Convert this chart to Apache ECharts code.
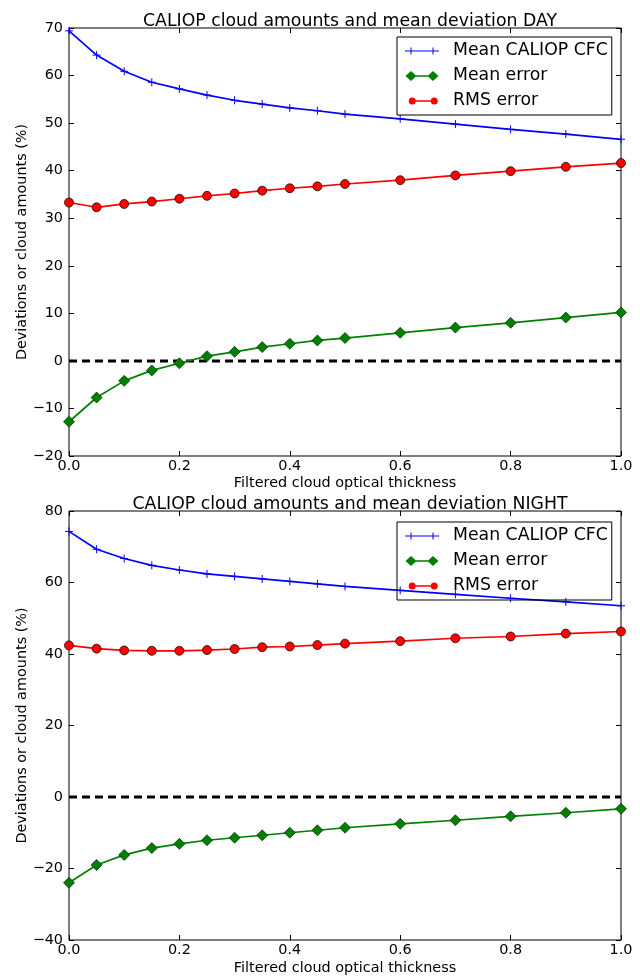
<!DOCTYPE html>
<html>
<head>
<meta charset="utf-8">
<script src="https://cdn.jsdelivr.net/npm/echarts@6/dist/echarts.min.js"></script>
<style>
  html, body { margin: 0; padding: 0; background: #fff; }
  #chart { width: 640px; height: 977px; }
</style>
</head>
<body>
<div id="chart"></div>
<script>
// filtered cloud optical thickness
const thickness = [0, 0.05, 0.1, 0.15, 0.2, 0.25, 0.3, 0.35, 0.4, 0.45, 0.5, 0.6, 0.7, 0.8, 0.9, 1.0];

const dayCfc = [69.4, 64.3, 60.9, 58.6, 57.2, 55.9, 54.8, 54.0, 53.2, 52.6, 51.9, 50.9, 49.8, 48.7, 47.7, 46.6];
const dayMeanErr = [-12.8, -7.7, -4.2, -2.0, -0.5, 1.0, 1.9, 2.9, 3.6, 4.3, 4.8, 5.9, 7.0, 8.0, 9.1, 10.2];
const dayRms = [33.3, 32.3, 33.0, 33.5, 34.1, 34.7, 35.2, 35.8, 36.3, 36.7, 37.2, 38.0, 39.0, 39.9, 40.8, 41.6];

const nightCfc = [74.3, 69.3, 66.7, 64.8, 63.5, 62.4, 61.7, 61.0, 60.3, 59.6, 58.9, 57.8, 56.7, 55.6, 54.6, 53.5];
const nightMeanErr = [-24.0, -19.0, -16.2, -14.3, -13.1, -12.1, -11.4, -10.7, -10.0, -9.3, -8.6, -7.5, -6.5, -5.4, -4.4, -3.3];
const nightRms = [42.4, 41.5, 41.0, 40.9, 40.9, 41.1, 41.4, 41.9, 42.1, 42.5, 42.9, 43.6, 44.4, 44.9, 45.7, 46.3];

const xRange = [0, 1, 0.2];
const dayYRange = [-20, 70, 10];
const nightYRange = [-40, 80, 20];

const titles = ['CALIOP cloud amounts and mean deviation DAY', 'CALIOP cloud amounts and mean deviation NIGHT'];
const seriesNames = ['Mean CALIOP CFC', 'Mean error', 'RMS error'];
const xName = 'Filtered cloud optical thickness';
const yName = 'Deviations or cloud amounts (%)';

const FONT = 'DejaVu Sans';
const pairs = ys => thickness.map((x, i) => [x, ys[i]]);
const minus = v => (v < 0 ? '\u2212' + Math.abs(v) : String(v));

const chart = echarts.init(document.getElementById('chart'), null, { renderer: 'canvas' });

const grids = [
  { left: 69, top: 28, width: 552, height: 428 },
  { left: 69, top: 511, width: 552, height: 429 }
];

const tick = { inside: true, length: 5, lineStyle: { color: '#000', width: 1 } };

function xAxes(gi, gap) {
  const base = {
    gridIndex: gi, type: 'value', min: xRange[0], max: xRange[1], interval: xRange[2],
    axisLine: { show: false, onZero: false },
    axisTick: tick,
    splitLine: { show: false }
  };
  return [
    Object.assign({}, base, {
      position: 'bottom',
      axisLabel: { formatter: v => v.toFixed(1), color: '#000', fontSize: 14.4, fontFamily: FONT, margin: 3 },
      name: xName, nameLocation: 'middle', nameGap: gap, nameMoveOverlap: false,
      nameTextStyle: { color: '#000', fontSize: 14.4, fontFamily: FONT }
    }),
    Object.assign({}, base, { position: 'top', axisLabel: { show: false } })
  ];
}

function yAxes(gi, range) {
  const base = {
    gridIndex: gi, type: 'value', min: range[0], max: range[1], interval: range[2],
    axisLine: { show: false, onZero: false },
    axisTick: tick,
    splitLine: { show: false }
  };
  return [
    Object.assign({}, base, {
      position: 'left',
      axisLabel: { formatter: minus, color: '#000', fontSize: 14.4, fontFamily: FONT, margin: 6 },
      name: yName, nameLocation: 'middle', nameGap: 40, nameRotate: 90, nameMoveOverlap: false,
      nameTextStyle: { color: '#000', fontSize: 14.4, fontFamily: FONT }
    }),
    Object.assign({}, base, { position: 'right', axisLabel: { show: false } })
  ];
}

function plotSeries(gi, cfc, meanErr, rms) {
  const ax = { xAxisIndex: gi * 2, yAxisIndex: gi * 2 };
  return [
    Object.assign({
      type: 'line', name: 'zero', data: [[xRange[0], 0], [xRange[1], 0]],
      symbol: 'none', silent: true, z: 1,
      lineStyle: { color: '#000', width: 3, type: [8, 5] }
    }, ax),
    Object.assign({
      type: 'line', name: seriesNames[0], data: pairs(cfc), z: 3,
      symbol: 'path://M0,4L8,4M4,0L4,8', symbolSize: 8,
      itemStyle: { color: '#0000ff', borderColor: '#0000ff', borderWidth: 1 },
      lineStyle: { color: '#0000ff', width: 1.7 }
    }, ax),
    Object.assign({
      type: 'line', name: seriesNames[1], data: pairs(meanErr), z: 3,
      symbol: 'diamond', symbolSize: 11,
      itemStyle: { color: '#008000', borderColor: '#002800', borderWidth: 0.7 },
      lineStyle: { color: '#008000', width: 1.7 }
    }, ax),
    Object.assign({
      type: 'line', name: seriesNames[2], data: pairs(rms), z: 3,
      symbol: 'circle', symbolSize: 9,
      itemStyle: { color: '#ff0000', borderColor: '#000', borderWidth: 0.7 },
      lineStyle: { color: '#ff0000', width: 1.7 }
    }, ax)
  ];
}

// legend icons: line with a marker at each end
const icons = [
  'path://M0,4.6H34V5.4H0Z M5.5,1.5H6.5V8.5H5.5Z M27.5,1.5H28.5V8.5H27.5Z M0,0H0.01V10H0Z',
  'path://M6,0L11.5,5L6,10L0.5,5Z M28,0L33.5,5L28,10L22.5,5Z M6,4.3H28V5.7H6Z',
  'path://M2.5,5A3.5,3.5 0 1,1 9.5,5A3.5,3.5 0 1,1 2.5,5Z M24.5,5A3.5,3.5 0 1,1 31.5,5A3.5,3.5 0 1,1 24.5,5Z M6,4.3H28V5.7H6Z M0,0H0.01V10H0Z'
];
const legendColors = ['#0000ff', '#008000', '#ff0000'];

function legend(top) {
  return {
    left: 397, top: top, orient: 'vertical',
    borderColor: '#000', borderWidth: 1, padding: [5.5, 4, 5.5, 8],
    itemWidth: 34, itemHeight: 10, itemGap: 8,
    selectedMode: false,
    data: seriesNames.map((n, i) => ({ name: n, icon: icons[i], itemStyle: { color: legendColors[i], borderWidth: 0 } })),
    textStyle: { color: '#000', fontSize: 17.3, fontFamily: FONT, lineHeight: 17, padding: [0, 0, 0, 9] }
  };
}

const titleTops = [8, 491];

const option = {
  animation: false,
  backgroundColor: '#fff',
  title: titles.map((t, i) => ({
    text: t, top: titleTops[i], left: grids[i].left + grids[i].width / 2, textAlign: 'center',
    textStyle: { color: '#000', fontSize: 17.3, fontWeight: 'normal', fontFamily: FONT }
  })),
  legend: [legend(37), legend(522)],
  grid: grids.map(g => Object.assign({ show: true, borderColor: '#000', borderWidth: 1, backgroundColor: 'transparent' }, g)),
  xAxis: xAxes(0, 20).concat(xAxes(1, 21)),
  yAxis: yAxes(0, dayYRange).concat(yAxes(1, nightYRange)),
  series: plotSeries(0, dayCfc, dayMeanErr, dayRms).concat(plotSeries(1, nightCfc, nightMeanErr, nightRms))
};

chart.setOption(option);
</script>
</body>
</html>
